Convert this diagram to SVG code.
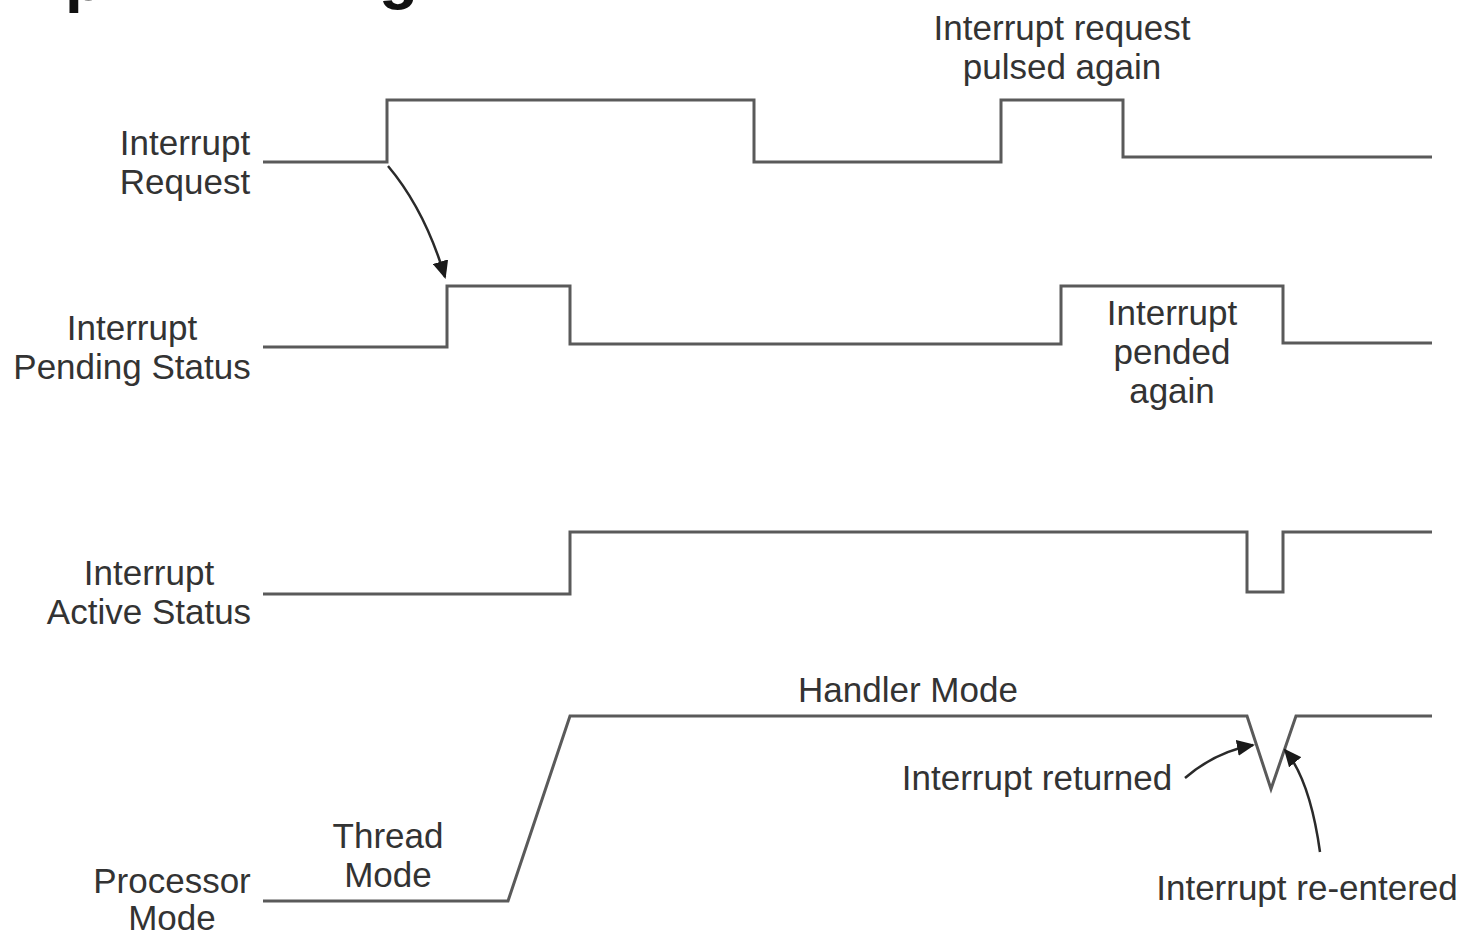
<svg xmlns="http://www.w3.org/2000/svg" width="1464" height="933" viewBox="0 0 1464 933">
  <style>
    .wave { fill: none; stroke: #5a5a5a; stroke-width: 3; stroke-linejoin: miter; }
    .ptr { fill: none; stroke: #2a2a2a; stroke-width: 2.5; }
    .lbl { font-family: "Liberation Sans", Arial, sans-serif; font-size: 35px; fill: #333; text-anchor: middle; }
    .title { font-family: "Liberation Sans", Arial, sans-serif; font-size: 64px; font-weight: bold; fill: #111; }
  </style>
  <defs>
    <marker id="head" viewBox="0 0 18 16" refX="16" refY="8" markerWidth="18" markerHeight="16" markerUnits="userSpaceOnUse" orient="auto">
      <path d="M0,0 L18,8 L0,16 Z" fill="#1a1a1a"/>
    </marker>
  </defs>
  <rect width="1464" height="933" fill="#fff"/>

  <!-- heading, clipped at the top edge -->
  <text class="title" x="65" y="0">p</text>
  <text class="title" x="379" y="-3">g</text>

  <g id="interrupt-request">
    <text class="lbl" x="185" y="155">Interrupt</text>
    <text class="lbl" x="185" y="194">Request</text>
    <path class="wave" d="M263,162 H387 V100 H754 V162 H1001 V100 H1123 V157 H1432"/>
    <text class="lbl" x="1062" y="40">Interrupt request</text>
    <text class="lbl" x="1062" y="79">pulsed again</text>
  </g>

  <g id="pending-status">
    <text class="lbl" x="132" y="340">Interrupt</text>
    <text class="lbl" x="132" y="379">Pending Status</text>
    <path class="wave" d="M263,347 H447 V286 H570 V344 H1061 V286 H1283 V343 H1432"/>
    <text class="lbl" x="1172" y="325">Interrupt</text>
    <text class="lbl" x="1172" y="364">pended</text>
    <text class="lbl" x="1172" y="403">again</text>
  </g>

  <g id="active-status">
    <text class="lbl" x="149" y="585">Interrupt</text>
    <text class="lbl" x="149" y="624">Active Status</text>
    <path class="wave" d="M263,594 H570 V532 H1247 V592 H1283 V532 H1432"/>
  </g>

  <g id="processor-mode">
    <text class="lbl" x="172" y="893">Processor</text>
    <text class="lbl" x="172" y="930">Mode</text>
    <path class="wave" d="M263,901 H508 L570,716 H1247 L1271,789 L1296,716 H1432"/>
    <text class="lbl" x="388" y="848">Thread</text>
    <text class="lbl" x="388" y="887">Mode</text>
    <text class="lbl" x="908" y="702">Handler Mode</text>
    <text class="lbl" x="1037" y="790">Interrupt returned</text>
    <text class="lbl" x="1307" y="900">Interrupt re-entered</text>
  </g>

  <g id="connectors">
    <path class="ptr" d="M388,166 Q425,210 445,277" marker-end="url(#head)"/>
    <path class="ptr" d="M1185,778 Q1215,752 1253,745" marker-end="url(#head)"/>
    <path class="ptr" d="M1320,852 Q1310,780 1285,750" marker-end="url(#head)"/>
  </g>
</svg>
